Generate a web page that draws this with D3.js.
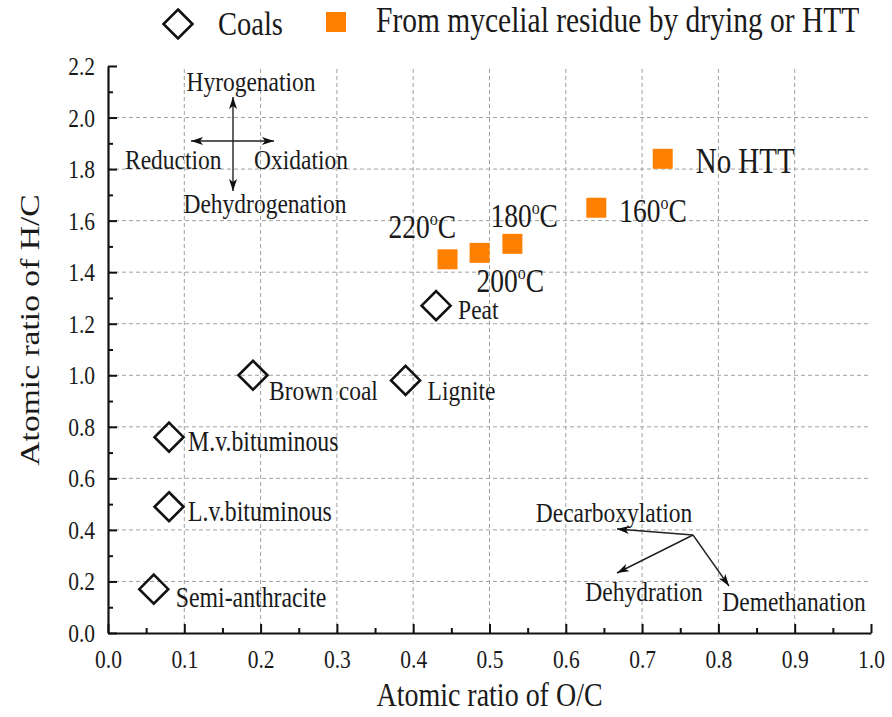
<!DOCTYPE html>
<html>
<head>
<meta charset="utf-8">
<script src="https://cdn.jsdelivr.net/npm/d3@7"></script>
<style>
  html, body { margin: 0; padding: 0; background: #fff; }
  svg text { font-family: "Liberation Serif", "Times New Roman", serif; fill: #1a1a1a; }
</style>
</head>
<body>
<svg id="chart" width="892" height="717"></svg>
<script>
// Van Krevelen diagram: coals vs. mycelial residue after drying / HTT

const coalNames = ["Peat", "Brown coal", "Lignite", "M.v.bituminous", "L.v.bituminous", "Semi-anthracite"];
const coalOC = [0.43, 0.19, 0.39, 0.08, 0.08, 0.06];
const coalHC = [1.27, 1.00, 0.98, 0.76, 0.49, 0.17];

const residueNames = ["No HTT", "160", "180", "200", "220"];
const residueOC = [0.727, 0.64, 0.53, 0.487, 0.445];
const residueHC = [1.84, 1.65, 1.51, 1.475, 1.45];

const xTicks = [0.0, 0.1, 0.2, 0.3, 0.4, 0.5, 0.6, 0.7, 0.8, 0.9, 1.0];
const yTicks = [0.0, 0.2, 0.4, 0.6, 0.8, 1.0, 1.2, 1.4, 1.6, 1.8, 2.0, 2.2];

const legendLabels = ["Coals", "From mycelial residue by drying or HTT"];

// label placement (pixel offsets from each marker)
const coalLabelOffset = [[22, 13], [16, 25], [22, 20], [19, 14], [19, 14], [22, 18]];
const residueLabelOffset = [[33, 14], [23, 14], [-22, -17], [-3, 39], [-59, -21]];

const plotL = 108, plotR = 871, plotT = 66, plotB = 633;
const ORANGE = "#ff8000";
const TALL = 1.2;   // glyphs are drawn a little taller than wide

const svg = d3.select("#chart");
const x = d3.scaleLinear().domain([0, 1]).range([plotL, plotR]);
const y = d3.scaleLinear().domain([0, 2.2]).range([plotB, plotT]);

// text helper: anchored at (tx, ty) baseline, stretched vertically
function label(parent, tx, ty, size, anchor) {
  return parent.append("text")
    .attr("transform", `translate(${tx},${ty}) scale(1,${TALL})`)
    .attr("text-anchor", anchor || "start")
    .attr("font-size", size);
}

// dashed grid
const grid = svg.append("g");
grid.selectAll("line.vx").data(xTicks.filter(d => d > 0 && d < 1)).enter().append("line")
  .attr("x1", d => x(d)).attr("x2", d => x(d)).attr("y1", y(0)).attr("y2", y(2.2))
  .attr("stroke", "#a0a0a0").attr("stroke-width", 1).attr("stroke-dasharray", "4,3");
grid.selectAll("line.hy").data(yTicks.filter(d => d > 0 && d < 2.2)).enter().append("line")
  .attr("y1", d => y(d)).attr("y2", d => y(d)).attr("x1", x(0)).attr("x2", x(1))
  .attr("stroke", "#a0a0a0").attr("stroke-width", 1).attr("stroke-dasharray", "4,3");

// axes with inward major + minor ticks
const xMinor = d3.range(0.05, 1.0, 0.1);
const yMinor = d3.range(0.1, 2.2, 0.2);

const xAxisG = svg.append("g").attr("transform", `translate(0,${plotB})`)
  .call(d3.axisBottom(x).tickValues(xTicks).tickFormat(d3.format(".1f")).tickSizeInner(-9).tickSizeOuter(0));
svg.append("g").attr("transform", `translate(0,${plotB})`)
  .call(d3.axisBottom(x).tickValues(xMinor).tickFormat("").tickSizeInner(-5).tickSizeOuter(0))
  .select(".domain").remove();
const yAxisG = svg.append("g").attr("transform", `translate(${plotL},0)`)
  .call(d3.axisLeft(y).tickValues(yTicks).tickFormat(d3.format(".1f")).tickSizeInner(-9).tickSizeOuter(0));
svg.append("g").attr("transform", `translate(${plotL},0)`)
  .call(d3.axisLeft(y).tickValues(yMinor).tickFormat("").tickSizeInner(-5).tickSizeOuter(0))
  .select(".domain").remove();

svg.selectAll(".domain").attr("stroke", "#111").attr("stroke-width", 2.2);
svg.selectAll(".tick line").attr("stroke", "#111").attr("stroke-width", 2);
xAxisG.selectAll(".tick text")
  .attr("x", 0).attr("y", 0).attr("dy", null)
  .attr("transform", `translate(0,35) scale(1,${TALL})`)
  .attr("font-size", 21.5).attr("fill", "#1a1a1a");
yAxisG.selectAll(".tick text")
  .attr("x", 0).attr("y", 0).attr("dy", null)
  .attr("transform", `translate(-13,8.5) scale(1,${TALL})`)
  .attr("font-size", 21.5).attr("fill", "#1a1a1a");

// axis titles
label(svg, (plotL + plotR) / 2, 706, 28, "middle").text("Atomic ratio of O/C");
svg.append("text").attr("transform", `translate(39,330) rotate(-90) scale(${TALL},1)`)
  .attr("text-anchor", "middle").attr("font-size", 28).text("Atomic ratio of H/C");

// markers
const diamond = (cx, cy, r) => `M${cx},${cy - r}L${cx + r},${cy}L${cx},${cy + r}L${cx - r},${cy}Z`;

const coals = coalNames.map((n, i) => ({ name: n, oc: coalOC[i], hc: coalHC[i], off: coalLabelOffset[i] }));
const residues = residueNames.map((n, i) => ({ name: n, oc: residueOC[i], hc: residueHC[i], off: residueLabelOffset[i] }));

svg.append("g").selectAll("path").data(coals).enter().append("path")
  .attr("d", d => diamond(x(d.oc), y(d.hc), 14.5))
  .attr("fill", "none").attr("stroke", "#111").attr("stroke-width", 2.6);

const coalLabels = svg.append("g");
coals.forEach(d => label(coalLabels, x(d.oc) + d.off[0], y(d.hc) + d.off[1], d.name.length > 12 ? 23.8 : 23.5).text(d.name));

const sq = 20;
svg.append("g").selectAll("rect").data(residues).enter().append("rect")
  .attr("x", d => x(d.oc) - sq / 2).attr("y", d => y(d.hc) - sq / 2)
  .attr("width", sq).attr("height", sq).attr("fill", ORANGE);

const resLabels = svg.append("g");
residues.forEach(d => {
  const t = label(resLabels, x(d.oc) + d.off[0], y(d.hc) + d.off[1], d.name === "No HTT" ? 29 : 27.5);
  if (d.name === "No HTT") { t.text(d.name); return; }
  t.append("tspan").text(d.name);
  t.append("tspan").attr("font-size", 16).attr("dy", -11).text("o");
  t.append("tspan").attr("dy", 11).text("C");
});

// arrow heads
const defs = svg.append("defs");
defs.append("marker").attr("id", "ah").attr("viewBox", "0 0 12 8").attr("refX", 12).attr("refY", 4)
  .attr("markerWidth", 12).attr("markerHeight", 8).attr("markerUnits", "userSpaceOnUse").attr("orient", "auto")
  .append("path").attr("d", "M0,0L12,4L0,8L3,4Z").attr("fill", "#111");

const arrow = (x1, y1, x2, y2) => svg.append("line")
  .attr("x1", x1).attr("y1", y1).attr("x2", x2).attr("y2", y2)
  .attr("stroke", "#222").attr("stroke-width", 1.4).attr("marker-end", "url(#ah)");

// reaction direction cross (upper left)
const cx0 = 233, cy0 = 141;
arrow(cx0, cy0, cx0, 97);
arrow(cx0, cy0, cx0, 191);
arrow(cx0, cy0, 191, cy0);
arrow(cx0, cy0, 274, cy0);
const ann = (tx, ty, s, anchor) => label(svg, tx, ty, 23.5, anchor).text(s);
ann(251, 91, "Hyrogenation", "middle");
ann(125, 169, "Reduction");
ann(254, 169, "Oxidation");
ann(265, 213, "Dehydrogenation", "middle");

// reaction pathways (lower right)
const ox = 693, oy = 535;
arrow(ox, oy, 617, 529);
arrow(ox, oy, 617, 573);
arrow(ox, oy, 729, 586);
ann(614, 522, "Decarboxylation", "middle");
ann(644, 601, "Dehydration", "middle");
ann(794, 611, "Demethanation", "middle");

// legend
const lg = svg.append("g");
lg.append("path").attr("d", diamond(178, 24, 14.5)).attr("fill", "none").attr("stroke", "#111").attr("stroke-width", 2.6);
label(lg, 218, 35, 28.5).text(legendLabels[0]);
lg.append("rect").attr("x", 326).attr("y", 12).attr("width", 20).attr("height", 20).attr("fill", ORANGE);
label(lg, 376, 32, 29.5).text(legendLabels[1]);
</script>
</body>
</html>
